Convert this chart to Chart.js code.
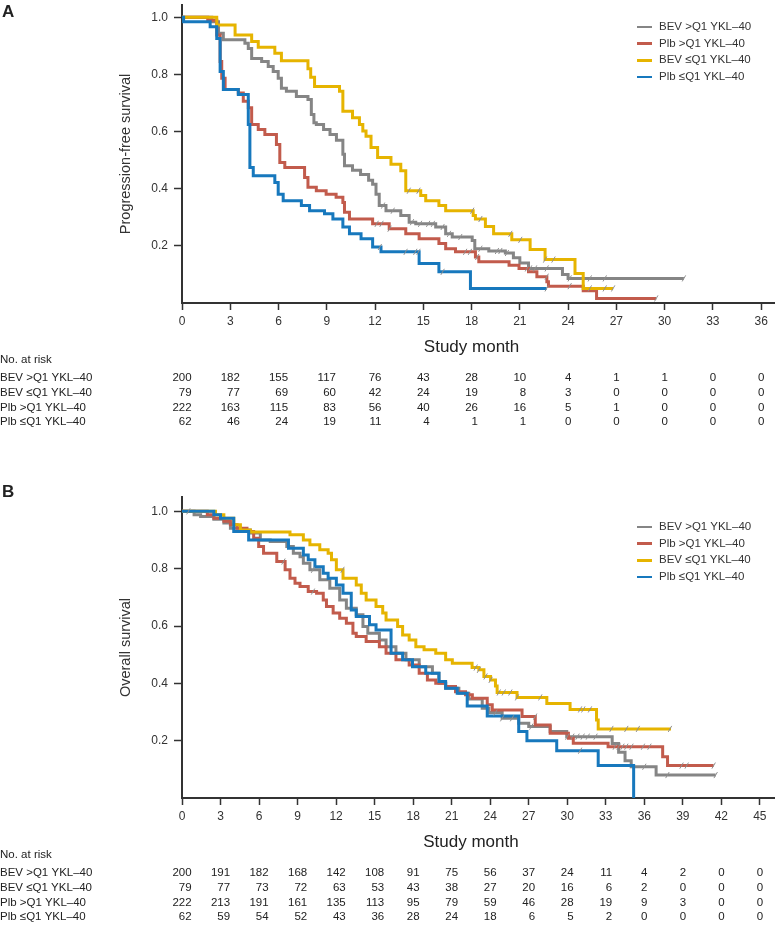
<!DOCTYPE html>
<html>
<head>
<meta charset="utf-8">
<script src="https://cdn.jsdelivr.net/npm/chart.js@4.4.1/dist/chart.umd.min.js"></script>
<style>
    html, body { margin: 0; padding: 0; background: #fff; }
    body { width: 779px; height: 927px; position: relative; overflow: hidden; font-family: "Liberation Sans", Arial, sans-serif; }
    .panel { position: absolute; left: 0; }
    .legend { position: absolute; left: 637px; margin: 0; padding: 0; list-style: none; font-size: 11.5px; color: #333; }
    .legend li { height: 16.7px; line-height: 16.7px; white-space: nowrap; }
    .legend span { display: inline-block; width: 15px; height: 2.5px; vertical-align: middle; margin-right: 7px; }
</style>
</head>
<body>
<canvas id="pfsChart" class="panel" width="779" height="440" style="top:0"></canvas>
<canvas id="osChart" class="panel" width="779" height="487" style="top:440px"></canvas>
<ul id="legendA" class="legend" style="top:18px"></ul>
<ul id="legendB" class="legend" style="top:518px"></ul>

<script>
// ---- data ----
const monthsPFS = [0, 3, 6, 9, 12, 15, 18, 21, 24, 27, 30, 33, 36];
const monthsOS = [0, 3, 6, 9, 12, 15, 18, 21, 24, 27, 30, 33, 36, 39, 42, 45];
const survTicks = [0.2, 0.4, 0.6, 0.8, 1.0];

const legendLabels = ['BEV >Q1 YKL\u201340', 'Plb >Q1 YKL\u201340', 'BEV \u2264Q1 YKL\u201340', 'Plb \u2264Q1 YKL\u201340'];
const riskLabels = ['BEV >Q1 YKL\u201340', 'BEV \u2264Q1 YKL\u201340', 'Plb >Q1 YKL\u201340', 'Plb \u2264Q1 YKL\u201340'];

// progression-free survival, [month, survival from that month on]
const pfsBevHigh = [[0, 1], [1.85, 0.984], [2.27, 0.944], [2.57, 0.921], [3.91, 0.909], [4.12, 0.891], [4.33, 0.856], [4.95, 0.845],
    [5.36, 0.828], [5.67, 0.81], [5.98, 0.787], [6.18, 0.752], [6.49, 0.741], [7.11, 0.723], [7.83, 0.712], [8.04, 0.66],
    [8.2, 0.631], [8.35, 0.625], [8.8, 0.607], [9.2, 0.59], [9.6, 0.57], [10.0, 0.521], [10.1, 0.48], [10.6, 0.465],
    [11.1, 0.45], [11.6, 0.43], [11.85, 0.416], [12.06, 0.381], [12.26, 0.341], [12.68, 0.323], [13.6, 0.306], [14.12, 0.283],
    [14.53, 0.277], [15.77, 0.266], [16.39, 0.242], [16.8, 0.231], [18.04, 0.219], [18.2, 0.19], [19.07, 0.182], [20.1, 0.175],
    [20.6, 0.158], [21.0, 0.14], [21.54, 0.121], [23.29, 0.121], [23.65, 0.1], [24.0, 0.086], [31.2, 0.086]];
const pfsPlbHigh = [[0, 1], [1.6, 0.99], [2.16, 0.938], [2.37, 0.845], [2.47, 0.787], [2.68, 0.747], [3.5, 0.735], [3.81, 0.706],
    [4.12, 0.683], [4.33, 0.625], [4.74, 0.607], [5.15, 0.59], [5.87, 0.555], [6.08, 0.492], [6.39, 0.474], [7.62, 0.439],
    [7.83, 0.405], [8.35, 0.393], [8.96, 0.381], [9.58, 0.37], [10.0, 0.352], [10.1, 0.318], [10.41, 0.294], [11.85, 0.277],
    [12.88, 0.26], [13.91, 0.242], [14.74, 0.225], [15.97, 0.208], [16.39, 0.19], [17.0, 0.179], [18.24, 0.161], [18.45, 0.144],
    [20.33, 0.132], [20.95, 0.121], [21.54, 0.109], [22.06, 0.092], [22.68, 0.074], [22.78, 0.059], [24.94, 0.043], [25.77, 0.016],
    [29.48, 0.016]];
const pfsBevLow = [[0, 1], [2.16, 0.973], [3.3, 0.938], [4.33, 0.915], [4.74, 0.895], [5.77, 0.874], [6.18, 0.848], [7.83, 0.82],
    [8.0, 0.79], [8.24, 0.758], [9.79, 0.741], [10.0, 0.671], [10.6, 0.648], [11.03, 0.625], [11.24, 0.602], [11.44, 0.584],
    [11.75, 0.544], [12.16, 0.509], [12.99, 0.486], [13.6, 0.463], [13.91, 0.393], [14.84, 0.376], [15.15, 0.358], [15.97, 0.341],
    [16.39, 0.323], [18.1, 0.306], [18.24, 0.294], [18.86, 0.268], [19.37, 0.242], [20.5, 0.221], [21.64, 0.187], [22.57, 0.152],
    [24.43, 0.103], [24.94, 0.051], [26.8, 0.051]];
const pfsPlbLow = [[0, 1], [0.1, 0.984], [1.75, 0.967], [2.16, 0.926], [2.37, 0.81], [2.57, 0.747], [3.5, 0.73], [4.12, 0.625],
    [4.22, 0.474], [4.43, 0.445], [5.77, 0.422], [5.98, 0.381], [6.29, 0.358], [7.42, 0.341], [7.93, 0.323], [8.86, 0.312],
    [9.38, 0.294], [10.0, 0.266], [10.41, 0.242], [11.13, 0.225], [11.85, 0.196], [12.37, 0.179], [14.74, 0.138], [15.97, 0.109],
    [17.93, 0.051], [22.67, 0.051]];

// censoring times (months)
const pfsCensBevHigh = [12.5, 13.1, 14.3, 14.8, 15.3, 15.6, 16.2, 16.6, 17.3, 18.55, 19.58, 19.79, 20.2, 21.64, 21.95, 22.67, 24.1, 25.35, 26.28, 31.2];
const pfsCensPlbHigh = [12.1, 12.4, 12.9, 17.6, 17.9, 18.35, 21.44, 22.67, 24.1, 29.48];
const pfsCensBevLow = [14.1, 14.7, 18.04, 18.55, 20.41, 21.03, 22.57, 23.09, 25.35, 26.28, 26.8];
const pfsCensPlbLow = [12.3, 13.9, 14.5, 14.7, 16.2, 22.67];

// overall survival, [month, survival from that month on]
const osBevHigh = [[0, 1], [0.94, 0.988], [1.45, 0.982], [2.48, 0.972], [3.26, 0.959], [3.77, 0.941], [4.55, 0.935], [5.32, 0.924],
    [6.1, 0.9], [6.87, 0.895], [8.16, 0.877], [8.67, 0.854], [9.19, 0.842], [9.45, 0.819], [9.96, 0.796], [10.73, 0.761],
    [11.51, 0.732], [12.28, 0.691], [12.8, 0.662], [13.57, 0.639], [14.09, 0.598], [14.47, 0.575], [15.37, 0.551], [15.89, 0.528],
    [16.66, 0.505], [17.44, 0.482], [18.47, 0.458], [19.5, 0.435], [20.01, 0.4], [20.53, 0.383], [21.56, 0.365], [22.33, 0.345],
    [23.38, 0.313], [23.9, 0.298], [24.93, 0.278], [26.22, 0.261], [27.0, 0.249], [28.67, 0.232], [29.96, 0.214], [33.05, 0.214],
    [33.5, 0.19], [34.0, 0.16], [34.5, 0.13], [34.98, 0.109], [36.92, 0.08], [41.56, 0.08]];
const osPlbHigh = [[0, 1], [1.97, 0.988], [2.48, 0.976], [3.26, 0.965], [3.77, 0.953], [4.29, 0.941], [5.06, 0.93], [5.58, 0.906],
    [5.97, 0.877], [6.35, 0.854], [7.38, 0.825], [8.03, 0.796], [8.41, 0.767], [8.8, 0.749], [9.19, 0.738], [9.83, 0.72],
    [10.48, 0.714], [11.0, 0.691], [11.25, 0.668], [11.77, 0.645], [12.28, 0.627], [12.8, 0.61], [13.31, 0.575], [13.57, 0.563],
    [14.34, 0.546], [15.37, 0.528], [15.89, 0.505], [16.66, 0.482], [17.69, 0.464], [18.47, 0.435], [19.11, 0.412], [19.76, 0.4],
    [20.53, 0.389], [21.3, 0.371], [22.08, 0.36], [22.61, 0.348], [23.77, 0.325], [24.16, 0.307], [26.48, 0.284], [27.51, 0.255],
    [28.67, 0.226], [30.09, 0.208], [30.47, 0.191], [33.18, 0.179], [37.43, 0.144], [37.81, 0.113], [41.4, 0.113]];
const osBevLow = [[0, 1], [2.61, 0.988], [3.26, 0.976], [4.03, 0.953], [4.55, 0.935], [5.32, 0.928], [8.41, 0.918], [9.45, 0.9],
    [9.96, 0.883], [10.73, 0.866], [11.38, 0.854], [11.64, 0.831], [12.02, 0.796], [12.54, 0.767], [13.57, 0.743], [13.96, 0.714],
    [14.34, 0.691], [15.11, 0.668], [15.63, 0.645], [15.89, 0.621], [16.79, 0.598], [17.18, 0.569], [17.69, 0.551], [18.21, 0.528],
    [18.85, 0.517], [19.76, 0.505], [20.53, 0.482], [21.05, 0.47], [22.59, 0.455], [23.12, 0.447], [23.51, 0.424], [24.03, 0.412],
    [24.41, 0.391], [24.54, 0.368], [26.09, 0.351], [28.41, 0.33], [30.22, 0.309], [32.28, 0.272], [32.41, 0.241], [38.08, 0.241]];
const osPlbLow = [[0, 1], [2.48, 0.988], [3.0, 0.976], [4.03, 0.93], [5.19, 0.9], [8.29, 0.871], [9.45, 0.848], [9.83, 0.831],
    [10.35, 0.807], [11.0, 0.784], [11.38, 0.767], [12.02, 0.743], [12.54, 0.714], [13.18, 0.656], [13.57, 0.633], [14.6, 0.604],
    [15.11, 0.586], [16.28, 0.505], [17.18, 0.482], [17.95, 0.458], [18.98, 0.435], [20.01, 0.406], [20.53, 0.383], [21.43, 0.365],
    [22.21, 0.321], [23.77, 0.286], [26.22, 0.232], [26.86, 0.2], [29.18, 0.165], [32.41, 0.113], [35.17, 0]];

const osCensBevHigh = [10.2, 24.41, 24.93, 25.7, 27.2, 30.0, 30.4, 30.8, 31.2, 31.6, 32.2, 36.0, 37.8, 41.56];
const osCensPlbHigh = [7.9, 10.2, 27.5, 33.7, 34.0, 34.3, 34.6, 35.0, 35.9, 36.4, 38.9, 39.3, 41.4];
const osCensBevLow = [0.5, 12.5, 22.87, 23.12, 23.64, 24.03, 24.67, 25.06, 25.57, 26.09, 27.9, 31.0, 31.25, 31.77, 33.44, 34.6, 35.5, 38.0];
const osCensPlbLow = [31.0];

// number at risk, in the table's row order
const pfsRisk = [
    [200, 182, 155, 117, 76, 43, 28, 10, 4, 1, 1, 0, 0],
    [79, 77, 69, 60, 42, 24, 19, 8, 3, 0, 0, 0, 0],
    [222, 163, 115, 83, 56, 40, 26, 16, 5, 1, 0, 0, 0],
    [62, 46, 24, 19, 11, 4, 1, 1, 0, 0, 0, 0, 0]
];
const osRisk = [
    [200, 191, 182, 168, 142, 108, 91, 75, 56, 37, 24, 11, 4, 2, 0, 0],
    [79, 77, 73, 72, 63, 53, 43, 38, 27, 20, 16, 6, 2, 0, 0, 0],
    [222, 213, 191, 161, 135, 113, 95, 79, 59, 46, 28, 19, 9, 3, 0, 0],
    [62, 59, 54, 52, 43, 36, 28, 24, 18, 6, 5, 2, 0, 0, 0, 0]
];

// ---- styling ----
const colors = ['#858585', '#c25b4c', '#e6b400', '#1778bd']; // legend order
const FONT = '"Liberation Sans", Arial, sans-serif';
const INK = '#333';

// value of a step curve at time t
function survivalAt(pts, t) {
    let v = pts[0][1];
    pts.forEach(p => { if (p[0] <= t) v = p[1]; });
    return v;
}

function curveSet(label, pts, color, order) {
    return {
        label: label,
        data: pts.map(p => ({ x: p[0], y: p[1] })),
        borderColor: color,
        borderWidth: 3,
        stepped: 'before', // hold the previous value until the next event
        pointRadius: 0,
        fill: false,
        order: order
    };
}

function censorSet(times, pts) {
    return {
        label: 'censored',
        data: times.map(t => ({ x: t, y: survivalAt(pts, t) })),
        showLine: false,
        pointStyle: 'line',
        pointRotation: -60,
        pointRadius: 3.5,
        pointBorderColor: '#8f8f8f',
        pointBorderWidth: 1,
        order: 0
    };
}

// draws the axis title, the no.-at-risk table and the panel letter
const riskTablePlugin = {
    id: 'riskTable',
    afterDraw(chart, args, opts) {
        const ctx = chart.ctx;
        const xs = chart.scales.x;
        const base = chart.chartArea.bottom;
        const m = opts.months;
        ctx.save();
        ctx.fillStyle = '#222';

        ctx.font = 'bold 17px ' + FONT;
        ctx.textAlign = 'left';
        ctx.textBaseline = 'alphabetic';
        ctx.fillText(opts.panel, 2, opts.panelY);

        ctx.font = '17px ' + FONT;
        ctx.textAlign = 'center';
        ctx.textBaseline = 'middle';
        const mid = (xs.getPixelForValue(m[0]) + xs.getPixelForValue(m[m.length - 1])) / 2;
        ctx.fillText('Study month', mid, base + 44.5);

        ctx.font = '11.5px ' + FONT;
        ctx.textAlign = 'left';
        ctx.fillText('No. at risk', 0, base + 57);
        opts.rows.forEach((row, i) => {
            ctx.fillText(opts.labels[i], 0, base + 75 + i * 14.75);
        });

        ctx.textAlign = 'right';
        m.forEach((month, j) => {
            const w = Math.max(...opts.rows.map(r => ctx.measureText(String(r[j])).width));
            const xr = xs.getPixelForValue(month) + w / 2;
            opts.rows.forEach((r, i) => {
                ctx.fillText(String(r[j]), xr, base + 75 + i * 14.75);
            });
        });
        ctx.restore();
    }
};

function buildChart(canvasId, cfg) {
    const ctx = document.getElementById(canvasId).getContext('2d');
    return new Chart(ctx, {
        type: 'line',
        data: {
            datasets: [
                curveSet(legendLabels[0], cfg.curves[0], colors[0], 4),
                curveSet(legendLabels[1], cfg.curves[1], colors[1], 3),
                curveSet(legendLabels[2], cfg.curves[2], colors[2], 2),
                curveSet(legendLabels[3], cfg.curves[3], colors[3], 1),
                censorSet(cfg.censor[0], cfg.curves[0]),
                censorSet(cfg.censor[1], cfg.curves[1]),
                censorSet(cfg.censor[2], cfg.curves[2]),
                censorSet(cfg.censor[3], cfg.curves[3])
            ]
        },
        options: {
            responsive: false,
            animation: false,
            devicePixelRatio: 1,
            layout: { padding: { left: 110, right: 2, top: cfg.top, bottom: 0 } },
            plugins: {
                legend: { display: false }, // custom legend
                tooltip: { enabled: false },
                riskTable: { months: cfg.months, rows: cfg.risk, labels: riskLabels, panel: cfg.panel, panelY: cfg.panelY }
            },
            scales: {
                x: {
                    type: 'linear',
                    min: 0,
                    max: cfg.xMax,
                    afterBuildTicks: s => { s.ticks = cfg.months.map(v => ({ value: v })); },
                    afterFit: s => { s.height = cfg.xHeight; s.paddingLeft = 0; s.paddingRight = 0; },
                    ticks: { font: { family: FONT, size: 12 }, color: INK, padding: 4, maxRotation: 0, autoSkip: false },
                    grid: { drawOnChartArea: false, tickLength: 7, color: INK, tickWidth: 1.5 },
                    border: { color: INK, width: 2 }
                },
                y: {
                    type: 'linear',
                    min: 0,
                    max: cfg.yMax,
                    afterBuildTicks: s => { s.ticks = survTicks.map(v => ({ value: v })); },
                    afterFit: s => { s.width = 72; s.paddingTop = 0; s.paddingBottom = 0; },
                    ticks: { font: { family: FONT, size: 12 }, color: INK, padding: 6, callback: v => v.toFixed(1) },
                    grid: { drawOnChartArea: false, tickLength: 8, color: INK, tickWidth: 1.5 },
                    border: { color: INK, width: 2 },
                    title: { display: true, text: cfg.yTitle, font: { family: FONT, size: 14.5 }, color: INK, padding: { top: 7, bottom: 0 } }
                }
            }
        },
        plugins: [riskTablePlugin]
    });
}

// Generate custom legend
function buildLegend(id) {
    const legendContainer = document.getElementById(id);
    legendContainer.innerHTML = '';
    legendLabels.forEach((label, index) => {
        const li = document.createElement('li');
        li.innerHTML = `<span style="background:${colors[index]}"></span>${label}`;
        legendContainer.appendChild(li);
    });
}

buildChart('pfsChart', {
    curves: [pfsBevHigh, pfsPlbHigh, pfsBevLow, pfsPlbLow],
    censor: [pfsCensBevHigh, pfsCensPlbHigh, pfsCensBevLow, pfsCensPlbLow],
    months: monthsPFS,
    risk: pfsRisk,
    xMax: 36.8,
    yMax: 1.043,
    top: 3,
    xHeight: 137,
    yTitle: 'Progression-free survival',
    panel: 'A',
    panelY: 17
});

buildChart('osChart', {
    curves: [osBevHigh, osPlbHigh, osBevLow, osPlbLow],
    censor: [osCensBevHigh, osCensPlbHigh, osCensBevLow, osCensPlbLow],
    months: monthsOS,
    risk: osRisk,
    xMax: 46.1,
    yMax: 1.05,
    top: 57,
    xHeight: 129,
    yTitle: 'Overall survival',
    panel: 'B',
    panelY: 57
});

buildLegend('legendA');
buildLegend('legendB');
</script>
</body>
</html>
